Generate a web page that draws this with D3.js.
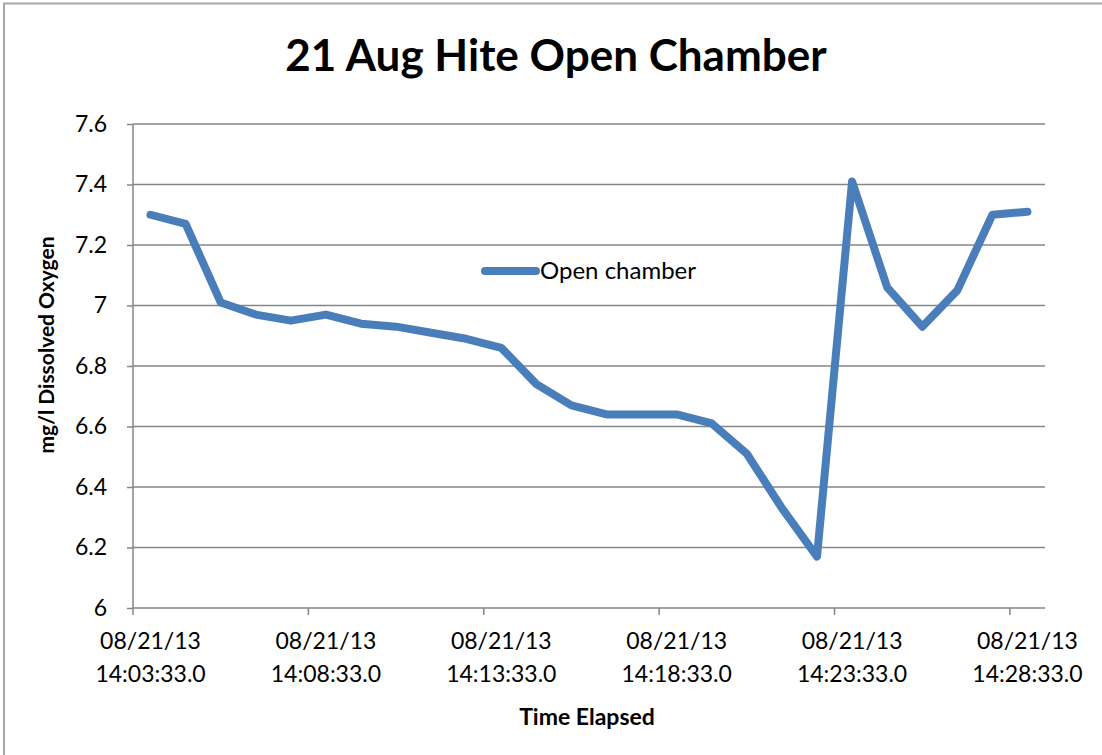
<!DOCTYPE html>
<html>
<head>
<meta charset="utf-8">
<script src="https://d3js.org/d3.v7.min.js"></script>
<style>
body { margin: 0; background: #fff; }
text { font-family: Lato, "Open Sans", sans-serif; fill: #000; }
</style>
</head>
<body>
<script>
var times = [
    "08/21/13 14:03:33.0", "08/21/13 14:04:33.0", "08/21/13 14:05:33.0", "08/21/13 14:06:33.0",
    "08/21/13 14:07:33.0", "08/21/13 14:08:33.0", "08/21/13 14:09:33.0", "08/21/13 14:10:33.0",
    "08/21/13 14:11:33.0", "08/21/13 14:12:33.0", "08/21/13 14:13:33.0", "08/21/13 14:14:33.0",
    "08/21/13 14:15:33.0", "08/21/13 14:16:33.0", "08/21/13 14:17:33.0", "08/21/13 14:18:33.0",
    "08/21/13 14:19:33.0", "08/21/13 14:20:33.0", "08/21/13 14:21:33.0", "08/21/13 14:22:33.0",
    "08/21/13 14:23:33.0", "08/21/13 14:24:33.0", "08/21/13 14:25:33.0", "08/21/13 14:26:33.0",
    "08/21/13 14:27:33.0", "08/21/13 14:28:33.0"
];
var oxygen = [7.30, 7.27, 7.01, 6.97, 6.95, 6.97, 6.94, 6.93, 6.91, 6.89, 6.86, 6.74, 6.67,
    6.64, 6.64, 6.64, 6.61, 6.51, 6.33, 6.17, 7.41, 7.06, 6.93, 7.05, 7.30, 7.31];
var yTicks = [6, 6.2, 6.4, 6.6, 6.8, 7, 7.2, 7.4, 7.6];
var labelEvery = 5;

var w = 1102, h = 755;
var plotLeft = 133, plotRight = 1045, plotTop = 124, plotBottom = 608;
var grey = "#868686", blue = "#4a7ebb";

var svg = d3.select("body").append("svg")
    .attr("width", w)
    .attr("height", h);

// outer chart border
svg.append("rect")
    .attr("x", 4).attr("y", 3.5)
    .attr("width", w + 10).attr("height", h + 10)
    .attr("fill", "none").attr("stroke", "#a6a6a6").attr("stroke-width", 2);

var x = d3.scaleBand().domain(times).range([plotLeft, plotRight]).paddingInner(0).paddingOuter(0);
var y = d3.scaleLinear().domain([6, 7.6]).range([plotBottom, plotTop]);

// gridlines
svg.append("g").selectAll("line")
    .data(yTicks.slice(1))
    .enter().append("line")
    .attr("x1", plotLeft).attr("x2", plotRight)
    .attr("y1", function(d) { return y(d); })
    .attr("y2", function(d) { return y(d); })
    .attr("stroke", grey).attr("stroke-width", 1.5);

// y axis
var yAxis = svg.append("g")
    .attr("transform", "translate(" + plotLeft + ",0)")
    .call(d3.axisLeft(y).tickValues(yTicks).tickSize(6).tickPadding(20)
        .tickFormat(function(d) { return String(+d.toFixed(1)); }));
yAxis.selectAll("line, path").attr("stroke", grey).attr("stroke-width", 1.5);
yAxis.select(".domain").attr("d", "M0," + plotTop + "V" + plotBottom);
yAxis.selectAll("text").attr("font-size", 23).attr("fill", "#000")
    .style("font-family", "Lato, 'Open Sans', sans-serif");

// x axis
var xg = svg.append("g");
xg.append("line")
    .attr("x1", plotLeft).attr("x2", plotRight)
    .attr("y1", plotBottom).attr("y2", plotBottom)
    .attr("stroke", grey).attr("stroke-width", 1.5);

var labelled = times.filter(function(d, i) { return i % labelEvery === 0; });
xg.selectAll(".tick")
    .data(labelled)
    .enter().append("line")
    .attr("x1", function(d) { return x(d); })
    .attr("x2", function(d) { return x(d); })
    .attr("y1", plotBottom).attr("y2", plotBottom + 7)
    .attr("stroke", grey).attr("stroke-width", 1.5);

var lbl = xg.selectAll(".lbl")
    .data(labelled)
    .enter().append("text")
    .attr("text-anchor", "middle")
    .attr("font-size", 23)
    .attr("x", function(d) { return x(d) + x.bandwidth() / 2; })
    .attr("y", plotBottom + 41);
lbl.append("tspan")
    .attr("x", function(d) { return x(d) + x.bandwidth() / 2; })
    .text(function(d) { return d.split(" ")[0]; });
lbl.append("tspan")
    .attr("x", function(d) { return x(d) + x.bandwidth() / 2; })
    .attr("dy", 33)
    .text(function(d) { return d.split(" ")[1]; });

// line
var line = d3.line()
    .x(function(d, i) { return x(times[i]) + x.bandwidth() / 2; })
    .y(function(d) { return y(d); });

svg.append("path")
    .datum(oxygen)
    .attr("d", line)
    .attr("fill", "none")
    .attr("stroke", blue)
    .attr("stroke-width", 8)
    .attr("stroke-linejoin", "round")
    .attr("stroke-linecap", "round");

// legend
svg.append("line")
    .attr("x1", 485).attr("x2", 536)
    .attr("y1", 271).attr("y2", 271)
    .attr("stroke", blue).attr("stroke-width", 8)
    .attr("stroke-linecap", "round");
svg.append("text")
    .attr("x", 540).attr("y", 279)
    .attr("font-size", 24)
    .text("Open chamber");

// titles
svg.append("text")
    .attr("x", 556).attr("y", 71)
    .attr("text-anchor", "middle")
    .attr("font-size", 44).attr("font-weight", "bold")
    .text("21 Aug Hite Open Chamber");

svg.append("text")
    .attr("x", (plotLeft + plotRight) / 2 - 2).attr("y", 725)
    .attr("text-anchor", "middle")
    .attr("font-size", 23).attr("font-weight", "bold")
    .text("Time Elapsed");

svg.append("text")
    .attr("transform", "translate(54,345) rotate(-90)")
    .attr("text-anchor", "middle")
    .attr("font-size", 21).attr("font-weight", "bold")
    .text("mg/l Dissolved Oxygen");
</script>
</body>
</html>
